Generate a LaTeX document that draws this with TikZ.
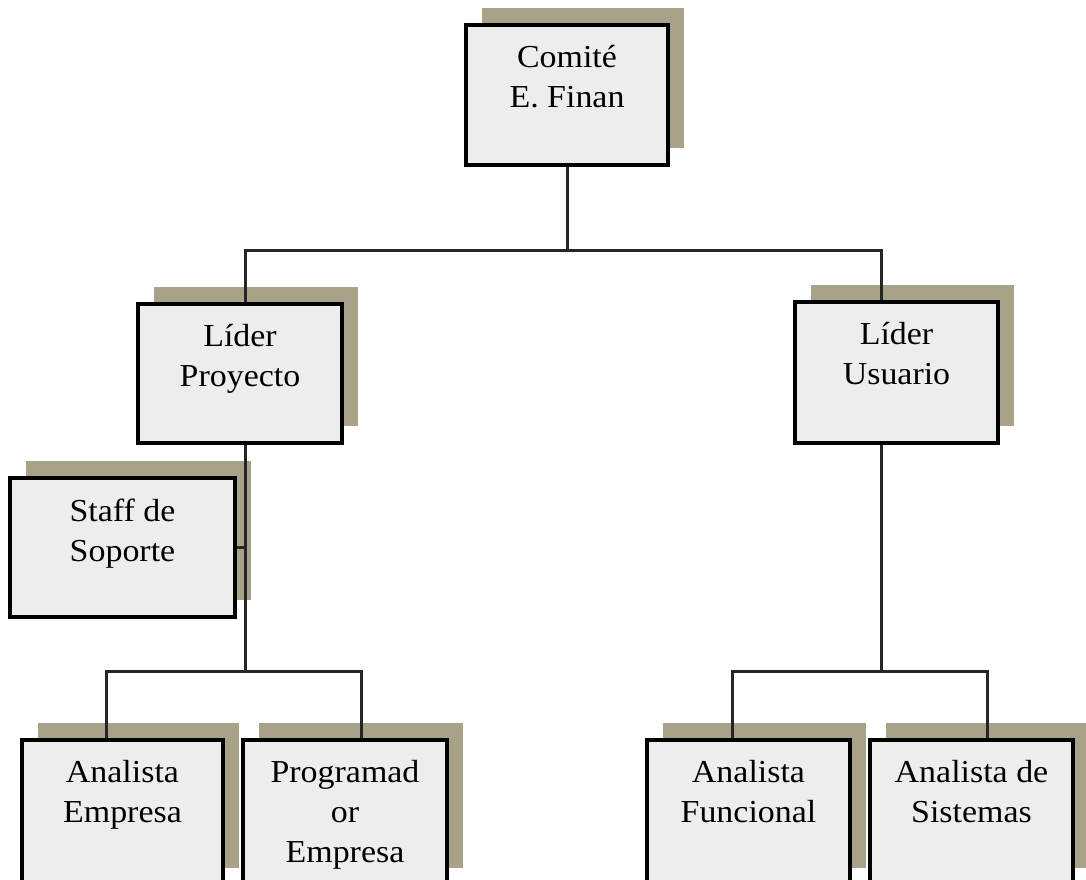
\documentclass[tikz,border=0pt]{standalone}
\usepackage{fontspec}
\setmainfont{Liberation Serif}
\newfontfamily\boxfont[FakeStretch=1.06]{Liberation Serif}
\usetikzlibrary{shadows}

\definecolor{boxfill}{RGB}{237,237,237}
\definecolor{shadowcol}{RGB}{168,162,136}

\tikzset{
  orgbox/.style={draw=black, line width=3.2pt, fill=boxfill,
    general shadow={fill=shadowcol, shadow xshift=16pt, shadow yshift=17pt}},
  boxtext/.style={anchor=north, inner sep=0pt, align=center,
    font={\boxfont\fontsize{32}{40}\selectfont}},
  link/.style={draw=black!85, line width=3pt}
}

\begin{document}
\begin{tikzpicture}[x=1pt, y=-1pt]
  \clip (0,0) rectangle (1086,879);

  % boxes of the organisation chart
  \node[orgbox, minimum width=202pt, minimum height=140pt] (comite) at (567,95) {};
  \node[orgbox, minimum width=204pt, minimum height=139pt] (lp) at (240,373.5) {};
  \node[orgbox, minimum width=203pt, minimum height=141pt] (lu) at (896.5,372.5) {};
  \node[orgbox, minimum width=225pt, minimum height=139pt] (staff) at (122.5,547.5) {};
  \node[orgbox, minimum width=201pt, minimum height=145pt] (ae) at (122.5,812.5) {};
  \node[orgbox, minimum width=204pt, minimum height=145pt] (pr) at (345,812.5) {};
  \node[orgbox, minimum width=203pt, minimum height=145pt] (af) at (748.5,812.5) {};
  \node[orgbox, minimum width=203pt, minimum height=145pt] (asis) at (971.5,812.5) {};

  % labels, set near the top of each box
  \node[boxtext] (comite-t) at ([yshift=-22pt]comite.north) {Comité\\E. Finan};
  \node[boxtext] (lp-t) at ([yshift=-22pt]lp.north) {Líder\\Proyecto};
  \node[boxtext] (lu-t) at ([yshift=-22pt]lu.north) {Líder\\Usuario};
  \node[boxtext] (staff-t) at ([yshift=-22pt]staff.north) {Staff de\\Soporte};
  \node[boxtext] (ae-t) at ([yshift=-22pt]ae.north) {Analista\\Empresa};
  \node[boxtext] (pr-t) at ([yshift=-22pt]pr.north) {Programad\\or\\Empresa};
  \node[boxtext] (af-t) at ([yshift=-22pt]af.north) {Analista\\Funcional};
  \node[boxtext] (asis-t) at ([yshift=-22pt]asis.north) {Analista de\\Sistemas};

  % junction points of the connectors
  \coordinate (hub) at (567,250);
  \coordinate (lpIn) at (245,250);
  \coordinate (luIn) at (881,250);
  \coordinate (hubL) at (245,671);
  \coordinate (hubR) at (881,671);
  \coordinate (aeIn) at (106,671);
  \coordinate (prIn) at (361,671);
  \coordinate (afIn) at (732,671);
  \coordinate (asIn) at (987,671);

  % connectors
  \draw[link] (comite.south) -- (hub);
  \draw[link] (lp.north -| lpIn) -- (lpIn) -- (luIn) -- (lu.north -| luIn);
  \draw[link] (lp.south -| lpIn) -- (hubL);
  \draw[link] (staff.east) -- (staff.east -| hubL);
  \draw[link] (ae.north -| aeIn) -- (aeIn) -- (prIn) -- (pr.north -| prIn);
  \draw[link] (lu.south -| luIn) -- (hubR);
  \draw[link] (af.north -| afIn) -- (afIn) -- (asIn) -- (asis.north -| asIn);
\end{tikzpicture}
\end{document}
